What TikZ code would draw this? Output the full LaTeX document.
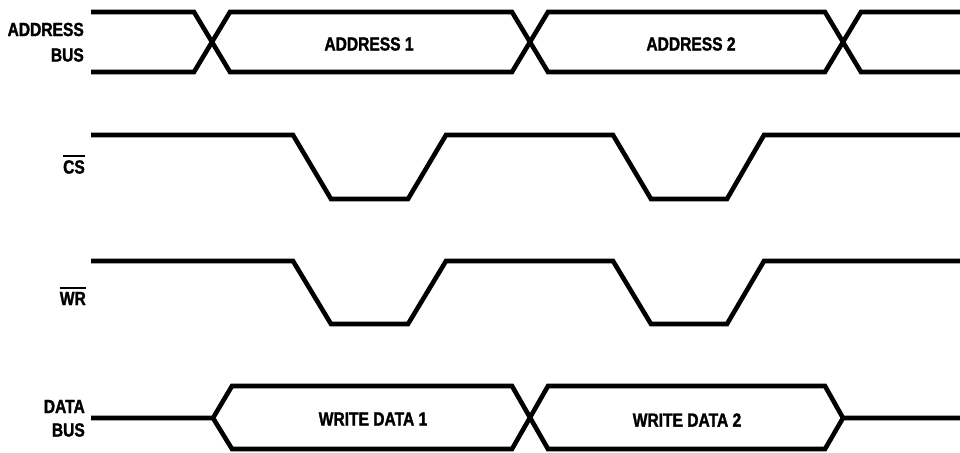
\documentclass[tikz,border=0pt]{standalone}
\usepackage{fontspec}
\setmainfont{Liberation Sans}[BoldFont={* Bold},BoldFeatures={FakeStretch=0.82,FakeBold=1.6}]
\begin{document}
\begin{tikzpicture}[x=1pt,y=-1pt,
  sig/.style={line width=4.6pt,line join=miter,miter limit=3},
  lbl/.style={inner sep=0pt,font=\fontsize{19pt}{21pt}\selectfont\bfseries},
  side/.style={lbl,anchor=east},
  bar/.style={line width=1.6pt}]
\useasboundingbox (0,0) rectangle (960,452);
% ---------- labels ----------
\node[side] (ab1) at (84,29.5) {ADDRESS};
\node[side] (ab2) at (84,55) {BUS};
\node[side] (cs) at (85,167) {CS};
\node[side] (wr) at (86,298.5) {WR};
\node[side] (db1) at (85,406.5) {DATA};
\node[side] (db2) at (85,430) {BUS};
\draw[bar] ([yshift=4pt]cs.north west) -- ([yshift=4pt]cs.north east);
\draw[bar] ([yshift=4pt]wr.north west) -- ([yshift=4pt]wr.north east);
% ---------- address bus ----------
\draw[sig] (91,12) -- (194,12) -- (230,72) -- (512,72) -- (548,12) -- (825,12) -- (861,72) -- (962,72);
\draw[sig] (91,72) -- (194,72) -- (230,12) -- (512,12) -- (548,72) -- (825,72) -- (861,12) -- (962,12);
\node[lbl] (a1) at (369,44) {ADDRESS 1};
\node[lbl] (a2) at (691,44) {ADDRESS 2};
% ---------- CS ----------
\draw[sig] (91,135) -- (293,135) -- (331,199) -- (408,199) -- (446,135) -- (613,135) -- (651,199) -- (727,199) -- (764,135) -- (962,135);
% ---------- WR ----------
\draw[sig] (91,261) -- (293,261) -- (331,324) -- (408,324) -- (446,261) -- (613,261) -- (651,324) -- (727,324) -- (764,261) -- (962,261);
% ---------- data bus ----------
\draw[sig] (91,418) -- (213,418) -- (232,386) -- (512,386) -- (548,449) -- (825,449) -- (843,418) -- (962,418);
\draw[sig] (213,418) -- (232,449) -- (512,449) -- (548,386) -- (825,386) -- (843,418);
\node[lbl] (w1) at (373,419) {WRITE DATA 1};
\node[lbl] (w2) at (687,420) {WRITE DATA 2};
\end{tikzpicture}
\end{document}
